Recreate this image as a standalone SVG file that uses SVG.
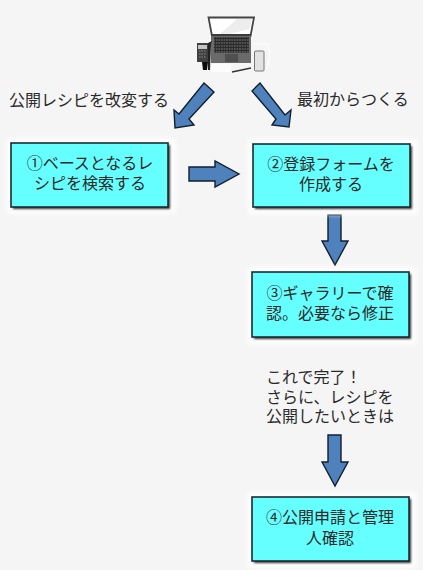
<svg xmlns="http://www.w3.org/2000/svg" width="423" height="570" viewBox="0 0 423 570">
<style>
.t{font-family:"Noto Sans CJK JP","Liberation Sans",sans-serif;font-size:16px;fill:#2a2a2a}
.c{text-anchor:middle}
.box{fill:#66ffff;stroke:#1c2b30;stroke-width:1.6}
.glow{fill:#fff;opacity:.75}
.arrow{fill:#4f81bd;stroke:#10202e;stroke-width:1.4;stroke-linejoin:miter}
</style>
<defs>
<filter id="sh" x="-10%" y="-15%" width="120%" height="130%"><feGaussianBlur stdDeviation="1.3"/></filter>
<filter id="wg" x="-10%" y="-15%" width="120%" height="130%"><feGaussianBlur stdDeviation="2"/></filter>
<filter id="lb" x="-5%" y="-5%" width="110%" height="110%"><feGaussianBlur stdDeviation="0.4"/></filter>
<pattern id="keys" width="2.6" height="3" patternUnits="userSpaceOnUse"><rect width="2.6" height="3" fill="#2b2b2b"/><rect width="1.6" height="2" fill="#555"/></pattern>
</defs>
<rect width="423" height="570" fill="#f5f5f5"/>

<g id="laptop" filter="url(#lb)">
<path d="M254 44L267 44L270 52L268 66L264 70" stroke="#fff" stroke-width="1" fill="none"/>
<rect x="211" y="64" width="20" height="8" fill="#fcfcfc"/>
<path d="M208.500 17.500L254 17.500L250.500 36L212 36Z" fill="#fff" stroke="#444" stroke-width="1.8"/>
<path d="M237 19L252 19L249.500 29L225 35L219 35Z" fill="#ededed"/>
<rect x="211" y="34" width="40" height="29" fill="#6a6a6a"/>
<rect x="211" y="34" width="40" height="2" fill="#3a3a3a"/>
<rect x="214" y="37" width="35" height="16" fill="url(#keys)"/>
<rect x="225" y="54" width="13" height="8" fill="#505050"/>
<rect x="197" y="43" width="11" height="19" fill="#404040"/>
<rect x="198" y="45" width="9" height="4" fill="#c4c4c4"/>
<path d="M199 51h7M199 54h7M199 57h7" stroke="#888" stroke-width="1" stroke-dasharray="1.500 1"/>
<path d="M202 62L208 62L207 70L203 70Z" fill="#111"/>
<path d="M208 43L212 41L211 44L210 70L208 70Z" fill="#222"/>
<path d="M232 72L251 68" stroke="#333" stroke-width="1.300" fill="none"/>
<rect x="254.500" y="51" width="9.500" height="20" rx="1" fill="#e2e2e2" stroke="#777" stroke-width="1"/>
</g>

<g id="connectors">
<path class="arrow" d="M204 83L214 92L189 119L194 125L175 128L174 110L179 114Z"/>
<path class="arrow" d="M260 83L252 91L276 119L272 125L289 127L291 110L285 115Z"/>
<path class="arrow" d="M189 167L215 167L215 161L239 174L215 187L215 181L189 181Z"/>
<path class="arrow" d="M328 215L341 215L341 241L348 241L335 265L322 241L328 241Z"/>
<path class="arrow" d="M328 435L341 435L341 462L348 462L335 486L322 462L328 462Z"/>
</g>

<g id="label-left"><text class="t" x="9" y="106">公開レシピを改変する</text></g>
<g id="label-right"><text class="t" x="297" y="105">最初からつくる</text></g>

<g id="node1">
<rect class="glow" x="6" y="138" width="170" height="76" filter="url(#wg)"/>
<rect x="13" y="145" width="157" height="64" fill="#333" filter="url(#sh)"/>
<rect class="box" x="11" y="143" width="157" height="64"/>
<text class="t c"><tspan x="90" y="169">①ベースとなるレ</tspan><tspan x="90" y="189">シピを検索する</tspan></text>
</g>
<g id="node2">
<rect class="glow" x="248" y="139" width="170" height="76" filter="url(#wg)"/>
<rect x="255" y="146" width="157" height="63" fill="#333" filter="url(#sh)"/>
<rect class="box" x="253" y="144" width="157" height="63"/>
<text class="t c"><tspan x="331" y="170">②登録フォームを</tspan><tspan x="331" y="190">作成する</tspan></text>
</g>
<g id="node3">
<rect class="glow" x="247" y="267" width="170" height="78" filter="url(#wg)"/>
<rect x="254" y="274" width="157" height="65" fill="#333" filter="url(#sh)"/>
<rect class="box" x="252" y="272" width="157" height="65"/>
<text class="t c"><tspan x="330" y="299">③ギャラリーで確</tspan><tspan x="330" y="319">認。必要なら修正</tspan></text>
</g>
<g id="note">
<text class="t"><tspan x="266" y="383">これで完了！</tspan><tspan x="266" y="403">さらに、レシピを</tspan><tspan x="266" y="422">公開したいときは</tspan></text>
</g>
<g id="node4">
<rect class="glow" x="247" y="492" width="170" height="77" filter="url(#wg)"/>
<rect x="254" y="499" width="157" height="64" fill="#333" filter="url(#sh)"/>
<rect class="box" x="252" y="497" width="157" height="64"/>
<text class="t c"><tspan x="330" y="523">④公開申請と管理</tspan><tspan x="330" y="544">人確認</tspan></text>
</g>
</svg>
